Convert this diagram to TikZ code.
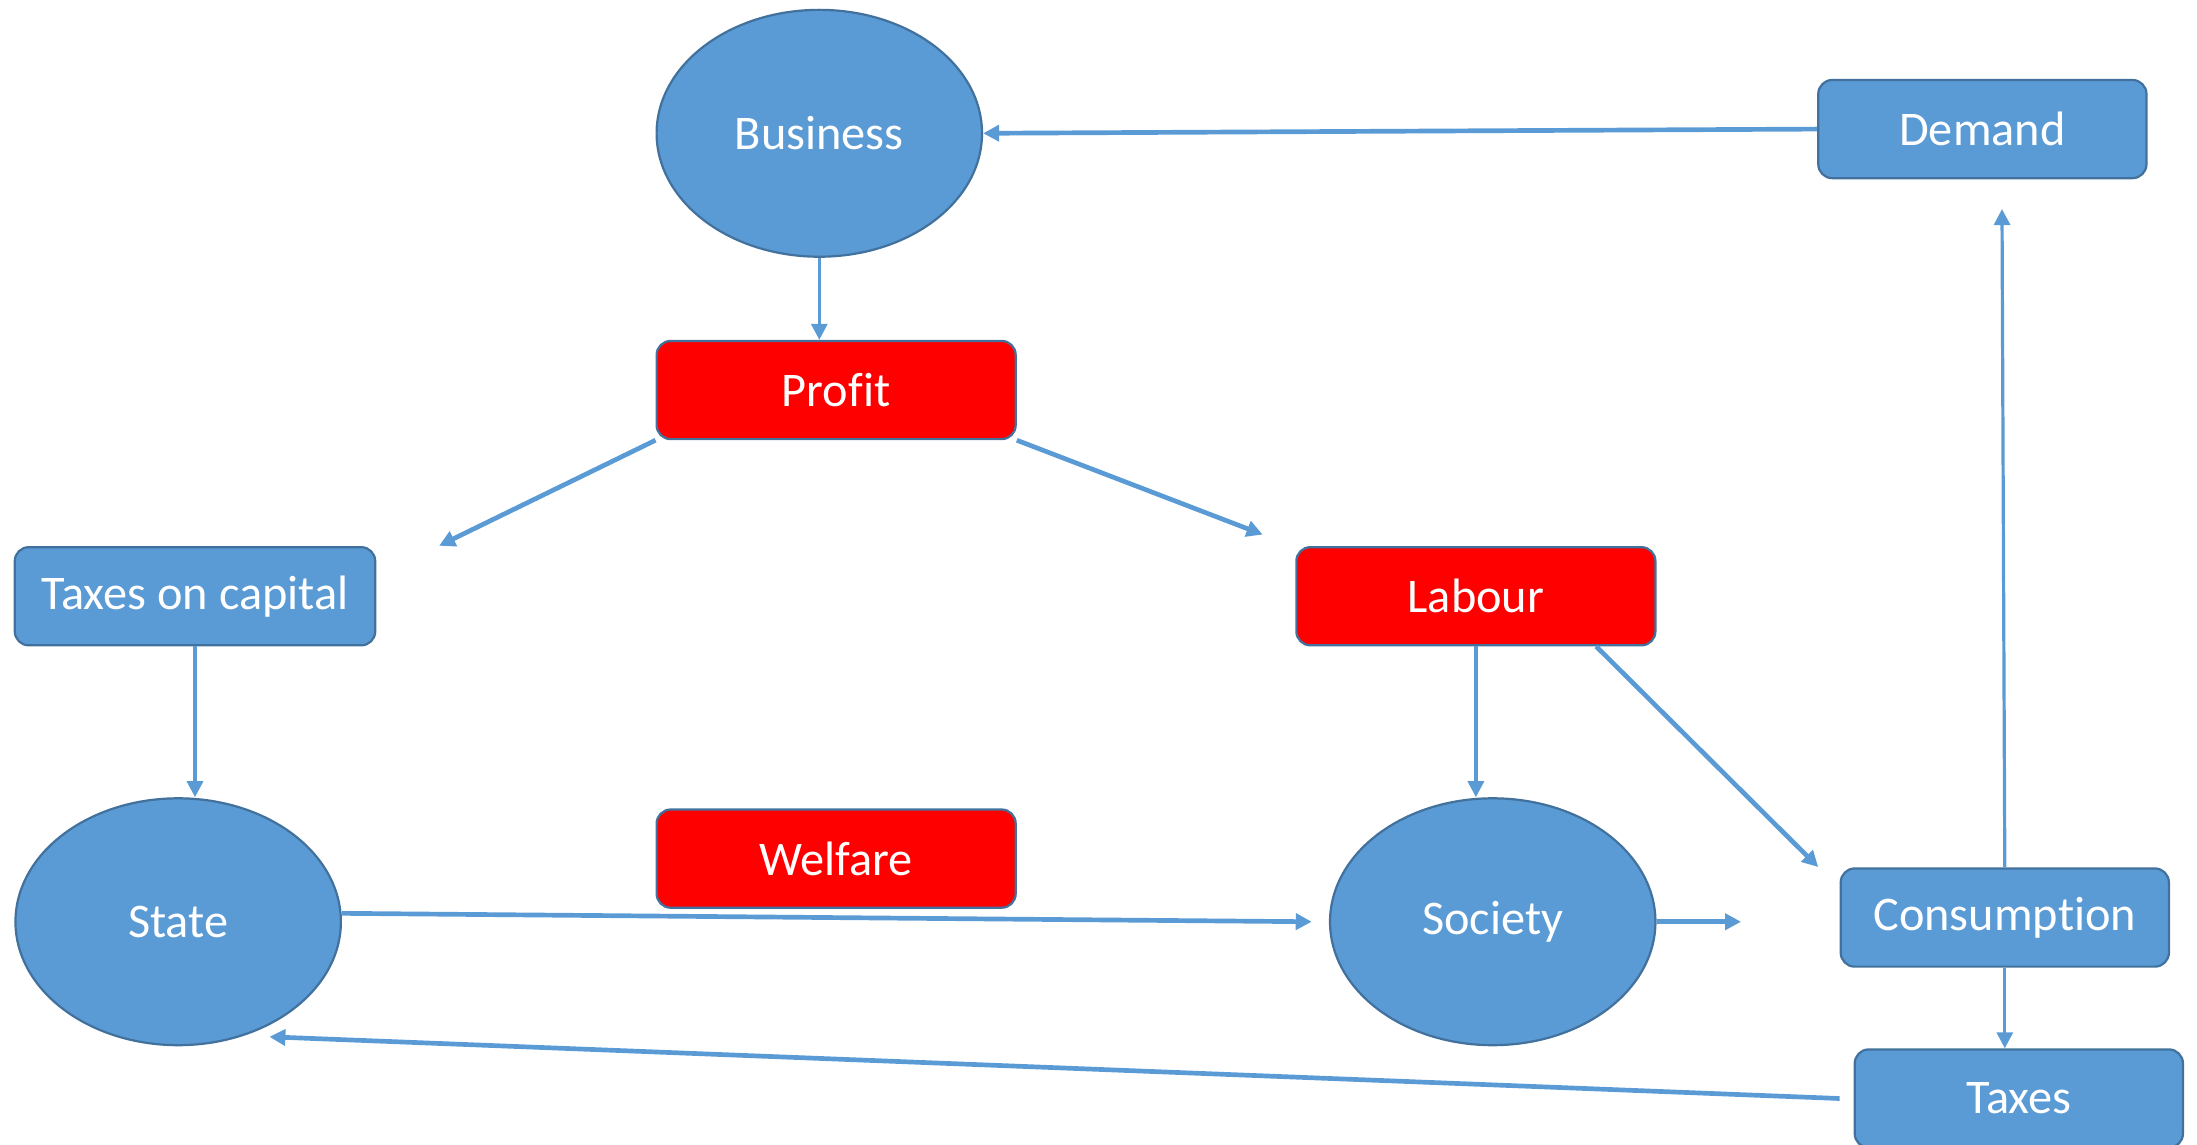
\documentclass[tikz,border=0pt]{standalone}
\usepackage{fontspec}
\setmainfont{Carlito}[Ligatures=NoCommon]
\usepackage{tikz}
\usetikzlibrary{shapes.geometric, arrows.meta}

\definecolor{boxblue}{HTML}{5B9BD5}
\definecolor{edgeblue}{HTML}{41719C}
\definecolor{boxred}{HTML}{FF0000}

\tikzset{
	box/.style={draw=edgeblue, line width=0.9pt, fill=boxblue, rounded corners=0.2cm,
		minimum width=4.68cm, minimum height=1.4cm, inner sep=0pt, text=white,
		font=\fontsize{19.6}{23}\selectfont},
	redbox/.style={box, fill=boxred, minimum width=5.12cm},
	blob/.style={ellipse, draw=edgeblue, line width=0.9pt, fill=boxblue,
		minimum width=4.64cm, minimum height=3.52cm, inner sep=0pt, text=white,
		font=\fontsize{19.6}{23}\selectfont},
	link/.style={draw=boxblue, line width=1.3pt, -{Triangle[length=6.5pt, width=6.5pt]}},
	heavylink/.style={link, line width=1.9pt}
}

\begin{document}
\begin{tikzpicture}[x=0.02cm, y=-0.02cm]
	\useasboundingbox (0, 0) rectangle (1566, 816);

	\node[blob] (business) at (584, 95) {Business};
	\node[box] (demand) at (1413, 92) {Demand};
	\node[redbox] (profit) at (596, 278) {Profit};
	\node[box, minimum width=5.14cm] (taxcap) at (139, 425) {Taxes on capital};
	\node[redbox] (labour) at (1052, 425) {Labour};
	\node[blob] (state) at (127, 657) {State};
	\node[redbox] (welfare) at (596, 612) {Welfare};
	\node[blob] (society) at (1064, 657) {Society};
	\node[box] (consumption) at (1429, 654) {Consumption};
	\node[box] (taxes) at (1439, 783) {Taxes};

	% free ends
	\coordinate (tcend) at (313, 389);
	\coordinate (lbend) at (900, 381);
	\coordinate (csend) at (1296, 618);
	\coordinate (soend) at (935, 657);
	\coordinate (sxend) at (1241, 657);
	\coordinate (dmend) at (1427, 149);
	\coordinate (stend) at (192, 739);

	\draw[link] (business.south) -- (business.south |- profit.north);
	\draw[heavylink] (demand.west) -- (business.east);
	\draw[heavylink] (profit.south west) -- (tcend);
	\draw[heavylink] (profit.south east) -- (lbend);
	\draw[link] (taxcap.south) -- (taxcap.south |- state.north);
	\draw[link] (labour.south) -- (labour.south |- society.north);
	\draw[heavylink] ([xshift=-0.86cm]labour.south east) -- (csend);
	\draw[heavylink] ([yshift=0.12cm]state.east) -- (soend);
	\draw[heavylink] (society.east) -- (sxend);
	\draw[link] (consumption.north) -- (dmend);
	\draw[link] (consumption.south) -- (taxes.north -| consumption.south);
	\draw[heavylink] ([xshift=-0.2cm]taxes.west) -- (stend);
\end{tikzpicture}
\end{document}
